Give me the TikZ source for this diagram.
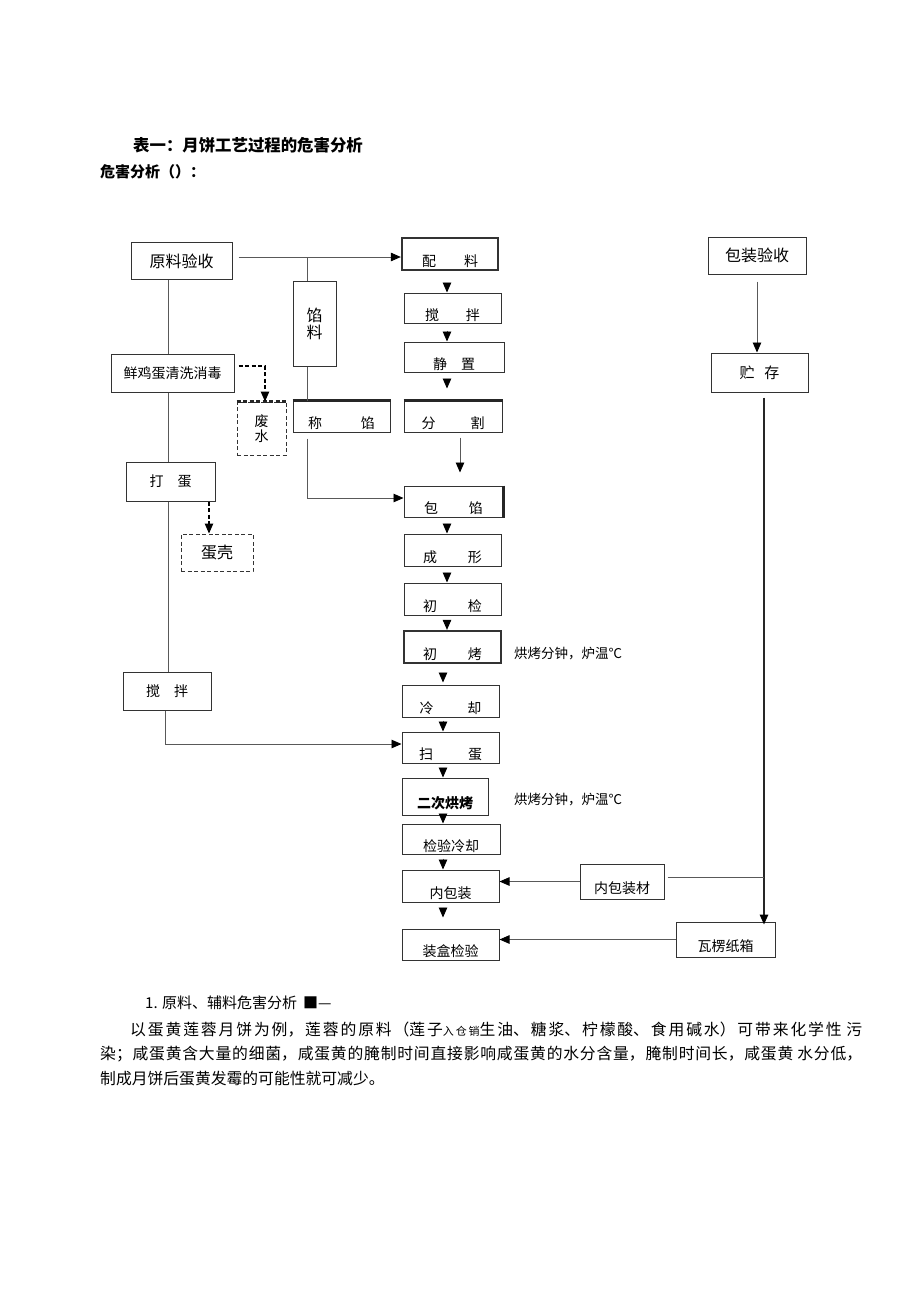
\documentclass[tikz,border=0pt]{standalone}
\usepackage{fontspec}
\setmainfont{Noto Sans CJK SC}
\usepackage{tikz}
\usetikzlibrary{arrows.meta,calc}
\XeTeXlinebreaklocale "zh"
\XeTeXlinebreakskip = 0pt plus 3pt
\newcommand{\fsz}[1]{\fontsize{#1}{#1}\selectfont}

\begin{document}
\begin{tikzpicture}[x=1pt,y=-1pt,
        box/.style={rectangle,draw=black!80,line width=1pt,inner sep=0pt,font=\fsz{14}},
        thickbox/.style={box,line width=2.3pt},
        dashbox/.style={box,dash pattern=on 4pt off 2.5pt},
        low/.style={text height=24pt,text depth=0pt},
        link/.style={draw=black!65,line width=0.9pt},
        tip/.style={-{Triangle[length=10pt,width=8.5pt,color=black]}},
        dlink/.style={draw=black,line width=1.1pt,dash pattern=on 4pt off 2.5pt},
        note/.style={anchor=west,inner sep=0pt}]
        \useasboundingbox (0,0) rectangle (920,1302);
        % heading
        \node[note,font=\bfseries\fsz{16.4}] (title) at (133,145) {表一：月饼工艺过程的危害分析};
        \node[note,font=\bfseries\fsz{15}]   (sub)   at (100,172) {危害分析（）：};
        % middle column
        \node[box,minimum width=101pt,minimum height=37pt,font=\fsz{16}] (yuanliao) at (181.5,261) {原料验收};
        \node[thickbox,low,minimum width=96pt,minimum height=32pt]  (peiliao)   at (450,254)   {配\hspace{28pt}料};
        \node[box,low,minimum width=97pt,minimum height=30pt]       (jiaoban)   at (452.5,308) {搅\hspace{27pt}拌};
        \node[box,low,minimum width=100pt,minimum height=30pt]      (jingzhi)   at (454,357)   {静\hspace{14pt}置};
        \node[box,low,minimum width=98pt,minimum height=31pt]       (fenge)     at (453,416.5) {分\hspace{35pt}割};
        \node[box,minimum width=43pt,minimum height=85pt,align=center,font=\fontsize{16}{17}\selectfont] (xianliao) at (314.5,323.5) {馅\\料};
        \node[box,low,minimum width=97pt,minimum height=31pt]       (chengxian) at (341.5,416.5) {称\hspace{39pt}馅};
        \node[box,low,minimum width=99pt,minimum height=31pt]       (baoxian)   at (453.5,501.5) {包\hspace{31pt}馅};
        \node[box,low,minimum width=97pt,minimum height=32pt]       (chengxing) at (452.5,550) {成\hspace{31pt}形};
        \node[box,low,minimum width=97pt,minimum height=32pt]       (chujian)   at (452.5,599) {初\hspace{31pt}检};
        \node[thickbox,low,minimum width=97pt,minimum height=32pt]  (chukao)    at (452.5,647) {初\hspace{31pt}烤};
        \node[box,low,minimum width=97pt,minimum height=32pt]       (lengque)   at (450.5,701) {冷\hspace{34pt}却};
        \node[box,low,minimum width=97pt,minimum height=31pt]       (saodan)    at (450.5,747.5) {扫\hspace{35pt}蛋};
        \node[box,low,minimum width=86pt,minimum height=37pt,font=\bfseries\fsz{14}] (erci) at (445,796.5) {二次烘烤};
        \node[box,low,minimum width=98pt,minimum height=30pt]       (jianyan)   at (451,839) {检验冷却};
        \node[box,low,minimum width=97pt,minimum height=32pt]       (neibao)    at (450.5,886) {内包装};
        \node[box,low,minimum width=97pt,minimum height=31pt]       (zhuanghe)  at (450.5,944.5) {装盒检验};
        \node[note,font=\fsz{13.5}] (kao1) at (514,654) {烘烤分钟，炉温℃};
        \node[note,font=\fsz{13.5}] (kao2) at (514,800) {烘烤分钟，炉温℃};
        % right column
        \node[box,minimum width=98pt,minimum height=37pt,font=\fsz{16}] (baozhuang) at (757,255.5) {包装验收};
        \node[box,minimum width=97pt,minimum height=39pt,font=\fsz{15}] (zhucun)    at (759.5,372.5) {贮\hspace{10pt}存};
        \node[box,low,minimum width=84pt,minimum height=35pt]       (neicai)    at (622,881.5) {内包装材};
        \node[box,low,minimum width=99pt,minimum height=35pt]       (wengzhi)   at (725.5,939.5) {瓦楞纸箱};
        % left column
        \node[box,minimum width=123pt,minimum height=38pt]          (xianjidan) at (172.5,373) {鲜鸡蛋清洗消毒};
        \node[dashbox,minimum width=49pt,minimum height=53pt,align=center,font=\fontsize{14}{15}\selectfont] (feishui) at (261.5,428.5) {废\\水};
        \node[box,minimum width=89pt,minimum height=39pt]           (dadan)     at (170.5,481.5) {打\hspace{14pt}蛋};
        \node[dashbox,minimum width=72pt,minimum height=37pt,font=\fsz{16}] (danke) at (217,552.5) {蛋壳};
        \node[box,minimum width=88pt,minimum height=38pt]           (jiaoban2)  at (167,691) {搅\hspace{14pt}拌};
        % heavier sides
        \draw[line width=2.2pt,black!85] (chengxian.north west) -- (chengxian.north east);
        \draw[line width=2.2pt,black!85] (fenge.north west) -- (fenge.north east);
        \draw[line width=2.2pt,black!85] (baoxian.north east) -- (baoxian.south east);
        \draw[line width=2.2pt,black!85,dash pattern=on 4pt off 2.5pt] (feishui.north west) -- (feishui.north east);
        % junctions
        \coordinate (j1) at (307,257);
        \coordinate (j2) at (307,498);
        \coordinate (j3) at (764,877);
        \coordinate (j5) at (165,744);
        \coordinate (j6) at (265,366);
        \coordinate (xl) at (168,0);
        \coordinate (xd) at (209,0);
        \coordinate (xm) at (447,0);
        \coordinate (xs) at (460,0);
        \coordinate (xn) at (443,0);
        \coordinate (xr) at (764,0);
        % filling branch
        \draw[link,tip,shorten <=6pt] (yuanliao.east |- j1) -- (j1 -| peiliao.west);
        \draw[link] (j1) -- (j1 |- xianliao.north);
        \draw[link] (j1 |- xianliao.south) -- (j1 |- chengxian.north);
        \draw[link,tip,shorten <=6pt] (j1 |- chengxian.south) -- (j2) -- (j2 -| baoxian.west);
        % main line
        \draw[link,tip,shorten <=12pt] (xm |- peiliao.south) -- (xm |- jiaoban.north);
        \draw[link,tip,shorten <=7pt] (xm |- jiaoban.south) -- (xm |- jingzhi.north);
        \draw[link,tip,shorten <=7pt,shorten >=12pt] (xm |- jingzhi.south) -- (xm |- fenge.north);
        \draw[link,tip,shorten <=5pt,shorten >=13pt] (xs |- fenge.south) -- (xs |- baoxian.north);
        \draw[link,tip,shorten <=6pt] (xm |- baoxian.south) -- (xm |- chengxing.north);
        \draw[link,tip,shorten <=6pt] (xm |- chengxing.south) -- (xm |- chujian.north);
        \draw[link,tip,shorten <=5pt] (xm |- chujian.south) -- (xm |- chukao.north);
        \draw[link,tip,shorten <=10pt,shorten >=2pt] (xn |- chukao.south) -- (xn |- lengque.north);
        \draw[link,tip,shorten <=3pt] (xn |- lengque.south) -- (xn |- saodan.north);
        \draw[link,tip,shorten <=5pt] (xn |- saodan.south) -- (xn |- erci.north);
        \draw[link,tip] (xn |- erci.south) -- (xn |- jianyan.north);
        \draw[link,tip,shorten <=4pt] (xn |- jianyan.south) -- (xn |- neibao.north);
        \draw[link,tip,shorten <=5pt,shorten >=11pt] (xn |- neibao.south) -- (xn |- zhuanghe.north);
        % packing
        \draw[link,tip,shorten <=7pt] (baozhuang.south) -- (baozhuang.south |- zhucun.north);
        \draw[link,draw=black!85,line width=1.5pt,tip,shorten <=5pt,shorten >=-3pt] (xr |- zhucun.south) -- (xr |- wengzhi.north);
        \draw[link,shorten <=3pt] (neicai.east |- j3) -- (j3);
        \draw[link,tip] (neicai.west) -- (neicai.west -| neibao.east);
        \draw[link,tip] (wengzhi.west) -- (wengzhi.west -| zhuanghe.east);
        % egg branch
        \draw[link] (xl |- yuanliao.south) -- (xl |- xianjidan.north);
        \draw[link] (xl |- xianjidan.south) -- (xl |- dadan.north);
        \draw[link] (xl |- dadan.south) -- (xl |- jiaoban2.north);
        \draw[link,tip] (j5 |- jiaoban2.south) -- (j5) -- (j5 -| saodan.west);
        \draw[dlink,tip,shorten <=4pt] (xianjidan.east |- j6) -- (j6) -- (j6 |- feishui.north);
        \draw[dlink,tip] (xd |- dadan.south) -- (xd |- danke.north);
        % text below
        \node[note,font=\fsz{15}] (sec) at (145,1003) {1. 原料、辅料危害分析\hspace{6pt}■—};
        \node[anchor=base west,inner sep=0pt] (para) at (100,1035) {\parbox[t]{762pt}{\fontsize{15.8}{24.5}\selectfont
          \hspace*{30pt}以蛋黄莲蓉月饼为例，莲蓉的原料（莲子{\fsz{11}入仓销}生油、糖浆、柠檬酸、食用碱水）可带来化学性 污\linebreak
          染；咸蛋黄含大量的细菌，咸蛋黄的腌制时间直接影响咸蛋黄的水分含量，腌制时间长，咸蛋黄 水分低，\linebreak
          制成月饼后蛋黄发霉的可能性就可减少。}};
      \end{tikzpicture}
\end{document}
